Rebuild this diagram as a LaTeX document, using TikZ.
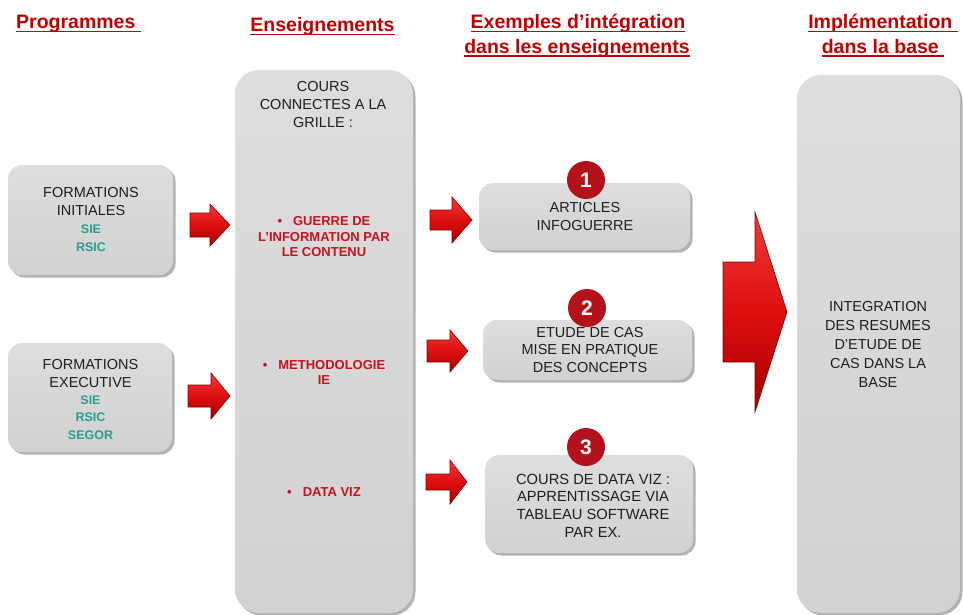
\documentclass[tikz,border=0pt]{standalone}
\usepackage{fontspec}
\setmainfont{Liberation Sans}
\usetikzlibrary{shadows}
\definecolor{hdred}{HTML}{C00000}
\definecolor{itemred}{HTML}{C4121E}
\definecolor{tealtxt}{HTML}{2A9D8F}
\definecolor{txtgray}{HTML}{1E1E1E}
\definecolor{boxtop}{HTML}{DEDEDE}
\definecolor{boxbot}{HTML}{D2D2D2}
\definecolor{arrtop}{HTML}{F03A3A}
\definecolor{arrmid}{HTML}{DD0E0E}
\definecolor{arrbot}{HTML}{A50000}
\definecolor{arredge}{HTML}{8A0000}
\definecolor{circred}{HTML}{B3121A}
\newcommand{\hul}[1]{\leavevmode\setbox0=\hbox{#1}\rlap{\copy0}\rule[-3.5pt]{\wd0}{1.6pt}}
\newcommand{\blkarrow}[6]{\path[blockarr] (#1,#4-#5) -- (#2,#4-#5) -- (#2,#4-#6) -- (#3,#4) -- (#2,#4+#6) -- (#2,#4+#5) -- (#1,#4+#5) -- cycle;}
\newcommand{\tl}[1]{{\color{tealtxt}\fontsize{12.5}{17.5}\selectfont\bfseries #1}}
\begin{document}
\begin{tikzpicture}[x=1pt,y=-1pt,
  graybox/.style={rectangle, rounded corners=14pt, top color=boxtop, bottom color=boxbot, draw=none,
    drop shadow={shadow xshift=2.5pt, shadow yshift=-2.5pt, fill=black!60, opacity=0.5}, inner sep=0pt},
  tallbox/.style={graybox, rounded corners=24pt},
  bodytxt/.style={align=center, text=txtgray, font=\fontsize{14.5}{18}\selectfont, inner sep=0pt},
  redtxt/.style={align=center, text=itemred, font=\fontsize{13}{15.5}\selectfont\bfseries, inner sep=0pt},
  header/.style={text=hdred, font=\fontsize{19.5}{24}\selectfont\bfseries, inner sep=0pt},
  numcircle/.style={circle, minimum size=38pt, inner sep=0pt, fill=circred, text=white,
    font=\fontsize{21}{21}\selectfont\bfseries},
  blockarr/.style={top color=arrtop, bottom color=arrbot, middle color=arrmid, draw=arredge, line width=0.6pt, line join=miter}
]
\fill[white] (0,0) rectangle (963,615);
\useasboundingbox (0,0) rectangle (963,615);

% headers
\node[header, anchor=base west] (hprog) at (16,29) {\hul{Programmes\ }};
\node[header, anchor=base] (hens) at (322.5,32) {\hul{Enseignements}};
\node[header, anchor=base] (hex1) at (578,29) {\hul{Exemples d’intégration}};
\node[header, anchor=base] (hex2) at (577,53.5) {\hul{dans les enseignements}};
\node[header, anchor=base] (himp1) at (883,29) {\hul{Implémentation\ }};
\node[header, anchor=base] (himp2) at (883,53.5) {\hul{dans la base\ }};

% left boxes
\node[graybox, minimum width=165pt, minimum height=110pt] (fi) at (90.5,220) {};
\node[bodytxt, font=\fontsize{14.5}{17.7}\selectfont] (fitxt) at (91,219.5) {FORMATIONS\\INITIALES\\\tl{SIE}\\\tl{RSIC}};
\node[graybox, minimum width=164pt, minimum height=109pt] (fe) at (90,397.5) {};
\node[bodytxt, font=\fontsize{14.5}{17.3}\selectfont] (fetxt) at (90.5,399.5) {FORMATIONS\\EXECUTIVE\\\tl{SIE}\\\tl{RSIC}\\\tl{SEGOR}};

% Enseignements column
\node[tallbox, minimum width=178pt, minimum height=543pt] (ens) at (324,341.5) {};
\node[bodytxt] (enstitle) at (323,105) {COURS\\CONNECTES A LA\\GRILLE :};
\node[redtxt] (it1) at (324,237) {•\hspace{11pt}GUERRE DE\\L'INFORMATION PAR\\LE CONTENU};
\node[redtxt] (it2) at (324,372.5) {•\hspace{11pt}METHODOLOGIE\\IE};
\node[redtxt] (it3) at (324,492) {•\hspace{11pt}DATA VIZ};

% examples
\node[graybox, minimum width=211pt, minimum height=67pt] (b1) at (584.5,216.5) {};
\node[bodytxt] (b1txt) at (585,217) {ARTICLES\\INFOGUERRE};
\node[graybox, minimum width=209pt, minimum height=60pt] (b2) at (587.5,350) {};
\node[bodytxt, font=\fontsize{14.5}{17.2}\selectfont] (b2txt) at (590,350) {ETUDE DE CAS\\MISE EN PRATIQUE\\DES CONCEPTS};
\node[graybox, minimum width=208pt, minimum height=98pt] (b3) at (589,504) {};
\node[bodytxt, font=\fontsize{14.7}{17.7}\selectfont] (b3txt) at (593,505.5) {COURS DE DATA VIZ :\\APPRENTISSAGE VIA\\TABLEAU SOFTWARE\\PAR EX.};
\node[numcircle] (n1) at (586,180) {1};
\node[numcircle] (n2) at (587,308) {2};
\node[numcircle] (n3) at (586,447) {3};

% base column
\node[tallbox, minimum width=163pt, minimum height=538pt] (base) at (878.5,344) {};
\node[bodytxt, font=\fontsize{14.5}{19}\selectfont] (basetxt) at (878,345) {INTEGRATION\\DES RESUMES\\D’ETUDE DE\\CAS DANS LA\\BASE};

% arrows
\blkarrow{190}{210}{230}{225}{12}{21}
\blkarrow{188}{211}{230}{396}{11}{23}
\blkarrow{430}{452}{472}{220}{10}{23}
\blkarrow{427}{450}{468}{351}{11}{21}
\blkarrow{426}{450}{467}{482}{8}{22}
\blkarrow{723}{755}{787}{312}{50}{100}
\end{tikzpicture}
\end{document}
